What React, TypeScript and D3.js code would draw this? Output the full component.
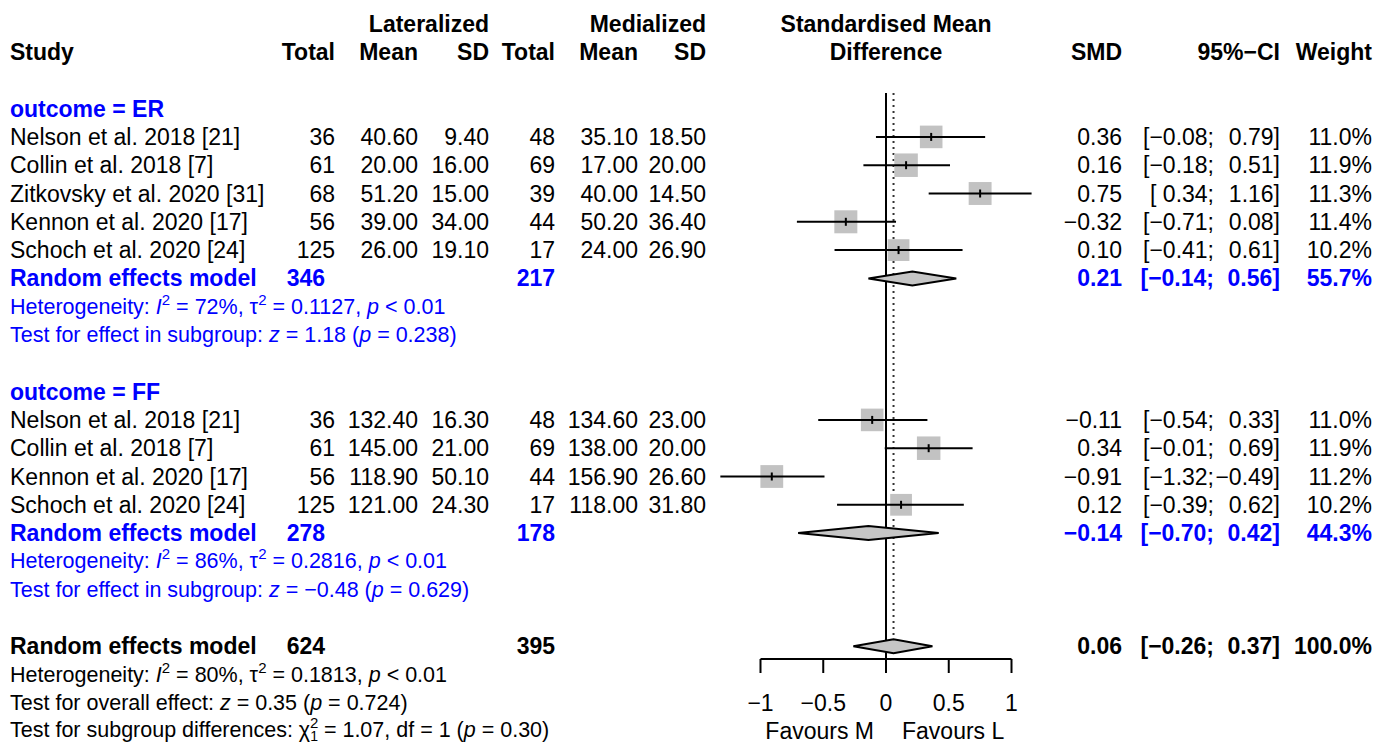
import { useEffect } from "react";
import * as d3 from "d3";

// ER subgroup
const erStudies = ["Nelson et al. 2018 [21]", "Collin et al. 2018 [7]", "Zitkovsky et al. 2020 [31]", "Kennon et al. 2020 [17]", "Schoch et al. 2020 [24]"];
const erLatTotal = [36, 61, 68, 56, 125];
const erLatMean = [40.6, 20.0, 51.2, 39.0, 26.0];
const erLatSD = [9.4, 16.0, 15.0, 34.0, 19.1];
const erMedTotal = [48, 69, 39, 44, 17];
const erMedMean = [35.1, 17.0, 40.0, 50.2, 24.0];
const erMedSD = [18.5, 20.0, 14.5, 36.4, 26.9];
const erSmd = [0.36, 0.16, 0.75, -0.32, 0.1];
const erLower = [-0.08, -0.18, 0.34, -0.71, -0.41];
const erUpper = [0.79, 0.51, 1.16, 0.08, 0.61];
const erWeight = [11.0, 11.9, 11.3, 11.4, 10.2];

// FF subgroup
const ffStudies = ["Nelson et al. 2018 [21]", "Collin et al. 2018 [7]", "Kennon et al. 2020 [17]", "Schoch et al. 2020 [24]"];
const ffLatTotal = [36, 61, 56, 125];
const ffLatMean = [132.4, 145.0, 118.9, 121.0];
const ffLatSD = [16.3, 21.0, 50.1, 24.3];
const ffMedTotal = [48, 69, 44, 17];
const ffMedMean = [134.6, 138.0, 156.9, 118.0];
const ffMedSD = [23.0, 20.0, 26.6, 31.8];
const ffSmd = [-0.11, 0.34, -0.91, 0.12];
const ffLower = [-0.54, -0.01, -1.32, -0.39];
const ffUpper = [0.33, 0.69, -0.49, 0.62];
const ffWeight = [11.0, 11.9, 11.2, 10.2];

// pooled: [ER, FF, overall]
const poolLatTotal = [346, 278, 624];
const poolMedTotal = [217, 178, 395];
const poolSmd = [0.21, -0.14, 0.06];
const poolLower = [-0.14, -0.7, -0.26];
const poolUpper = [0.56, 0.42, 0.37];
const poolWeight = [55.7, 44.3, 100.0];

const axisTicks = [-1, -0.5, 0, 0.5, 1];

const FONT = "'Liberation Sans', Arial, Helvetica, sans-serif";
const BLUE = "#0000ff";
const FS = 23;
const FS2 = 21.5;

const f2 = d3.format(".2f");
const f1 = d3.format(".1f");

const App = () => {
  useEffect(() => {
    document.body.style.margin = "0";
  }, []);

  const x = d3.scaleLinear().domain([-1, 1]).range([760.5, 1011.5]);
  const y = d3.scaleLinear().domain([0, 1]).range([52, 80.3]);
  const box = d3.scaleSqrt().domain([0, 11.9]).range([0, 23.5]);

  const col = { latTotal: 335, latMean: 418, latSD: 489, medTotal: 555, medMean: 638, medSD: 706, smd: 1122, ciLo: 1214, ciHi: 1280, weight: 1372 };
  const axisY = 659;

  const ciLo = (v: number) => (v < 0 ? `[${f2(v)};` : `[ ${f2(v)};`);

  const right = (xx: number, yy: number, s: string, extra: any = {}) => (
    <text x={xx} y={yy} textAnchor="end" dominantBaseline="central" {...extra}>{s}</text>
  );

  const studyRows = (start: number, studies: string[], lt: number[], lm: number[], ls: number[], mt: number[], mm: number[], ms: number[], smd: number[], lo: number[], hi: number[], w: number[]) =>
    studies.map((s, i) => {
      const yy = y(start + i);
      const size = box(w[i]);
      return (
        <g key={s + start}>
          <text x={10} y={yy} dominantBaseline="central">{s}</text>
          {right(col.latTotal, yy, String(lt[i]))}
          {right(col.latMean, yy, f2(lm[i]))}
          {right(col.latSD, yy, f2(ls[i]))}
          {right(col.medTotal, yy, String(mt[i]))}
          {right(col.medMean, yy, f2(mm[i]))}
          {right(col.medSD, yy, f2(ms[i]))}
          {right(col.smd, yy, f2(smd[i]))}
          {right(col.ciLo, yy, ciLo(lo[i]))}
          {right(col.ciHi, yy, `${f2(hi[i])}]`)}
          {right(col.weight, yy, `${f1(w[i])}%`)}
          <rect x={x(smd[i]) - size / 2} y={yy - size / 2} width={size} height={size} fill="#c2c2c2" />
          <line x1={x(lo[i])} x2={x(hi[i])} y1={yy} y2={yy} stroke="#000" strokeWidth={2} />
          <line x1={x(smd[i])} x2={x(smd[i])} y1={yy - 4} y2={yy + 4} stroke="#000" strokeWidth={2} />
        </g>
      );
    });

  const pooledRow = (row: number, k: number, color: string) => {
    const yy = y(row);
    const h = 7;
    const pts = [
      [x(poolLower[k]), yy],
      [x(poolSmd[k]), yy - h],
      [x(poolUpper[k]), yy],
      [x(poolSmd[k]), yy + h],
    ];
    return (
      <g key={"pool" + k}>
        <g fill={color} fontWeight="bold">
          <text x={10} y={yy} dominantBaseline="central">Random effects model</text>
          {right(col.latTotal - 10, yy, String(poolLatTotal[k]))}
          {right(col.medTotal, yy, String(poolMedTotal[k]))}
          {right(col.smd, yy, f2(poolSmd[k]))}
          {right(col.ciLo, yy, ciLo(poolLower[k]))}
          {right(col.ciHi, yy, `${f2(poolUpper[k])}]`)}
          {right(col.weight, yy, `${f1(poolWeight[k])}%`)}
        </g>
        <polygon points={pts.map((p) => p.join(",")).join(" ")} fill="#c6c6c6" stroke="#000" strokeWidth={2} />
      </g>
    );
  };

  const hetLine = (row: number, i2: string, tau2: string, color: string) => (
    <text x={10} y={y(row)} dominantBaseline="central" fill={color} fontSize={FS2}>
      Heterogeneity: <tspan fontStyle="italic">I</tspan>
      <tspan dy={-8} fontSize={15}>2</tspan>
      <tspan dy={8}>{` = ${i2}, τ`}</tspan>
      <tspan dy={-8} fontSize={15}>2</tspan>
      <tspan dy={8}>{` = ${tau2}, `}</tspan>
      <tspan fontStyle="italic">p</tspan>
      {" < 0.01"}
    </text>
  );

  const testLine = (row: number, label: string, z: string, p: string, color: string) => (
    <text x={10} y={y(row)} dominantBaseline="central" fill={color} fontSize={FS2}>
      {label}: <tspan fontStyle="italic">z</tspan>
      {` = ${z} (`}
      <tspan fontStyle="italic">p</tspan>
      {` = ${p})`}
    </text>
  );

  return (
    <svg width={1392} height={743} style={{ display: "block", background: "#fff" }} fontFamily={FONT} fontSize={FS}>
      {/* headers */}
      <g fontWeight="bold">
        {right(col.latSD, y(-1), "Lateralized")}
        {right(col.medSD, y(-1), "Medialized")}
        <text x={x(0)} y={y(-1)} textAnchor="middle" dominantBaseline="central">Standardised Mean</text>
        <text x={x(0)} y={y(0)} textAnchor="middle" dominantBaseline="central">Difference</text>
        <text x={10} y={y(0)} dominantBaseline="central">Study</text>
        {right(col.latTotal, y(0), "Total")}
        {right(col.latMean, y(0), "Mean")}
        {right(col.latSD, y(0), "SD")}
        {right(col.medTotal, y(0), "Total")}
        {right(col.medMean, y(0), "Mean")}
        {right(col.medSD, y(0), "SD")}
        {right(col.smd, y(0), "SMD")}
        {right(col.ciHi, y(0), "95%−CI")}
        {right(col.weight, y(0), "Weight")}
      </g>

      {/* reference lines */}
      <line x1={x(0)} x2={x(0)} y1={93} y2={axisY} stroke="#000" strokeWidth={2} />
      <line x1={x(poolSmd[2])} x2={x(poolSmd[2])} y1={93} y2={y(21) - 7} stroke="#333" strokeWidth={2} strokeDasharray="2,4" />

      {/* ER */}
      <text x={10} y={y(2)} dominantBaseline="central" fill={BLUE} fontWeight="bold">outcome = ER</text>
      {studyRows(3, erStudies, erLatTotal, erLatMean, erLatSD, erMedTotal, erMedMean, erMedSD, erSmd, erLower, erUpper, erWeight)}
      {pooledRow(8, 0, BLUE)}
      {hetLine(9, "72%", "0.1127", BLUE)}
      {testLine(10, "Test for effect in subgroup", "1.18", "0.238", BLUE)}

      {/* FF */}
      <text x={10} y={y(12)} dominantBaseline="central" fill={BLUE} fontWeight="bold">outcome = FF</text>
      {studyRows(13, ffStudies, ffLatTotal, ffLatMean, ffLatSD, ffMedTotal, ffMedMean, ffMedSD, ffSmd, ffLower, ffUpper, ffWeight)}
      {pooledRow(17, 1, BLUE)}
      {hetLine(18, "86%", "0.2816", BLUE)}
      {testLine(19, "Test for effect in subgroup", "−0.48", "0.629", BLUE)}

      {/* overall */}
      {pooledRow(21, 2, "#000")}
      {hetLine(22, "80%", "0.1813", "#000")}
      {testLine(23, "Test for overall effect", "0.35", "0.724", "#000")}
      <text x={10} y={y(24) - 1} dominantBaseline="central" fontSize={FS2}>
        Test for subgroup differences: χ
        <tspan dy={-8} fontSize={15}>2</tspan>
        <tspan dx={-8.3} dy={14} fontSize={14}>1</tspan>
        <tspan dy={-6}>{" = 1.07, df = 1 ("}</tspan>
        <tspan fontStyle="italic">p</tspan>
        {" = 0.30)"}
      </text>

      {/* axis */}
      <line x1={x(-1)} x2={x(1)} y1={axisY} y2={axisY} stroke="#000" strokeWidth={2} />
      {axisTicks.map((t) => (
        <g key={t}>
          <line x1={x(t)} x2={x(t)} y1={axisY} y2={axisY + 14} stroke="#000" strokeWidth={2} />
          <text x={x(t)} y={y(23)} textAnchor="middle" dominantBaseline="central">{d3.format("")(t)}</text>
        </g>
      ))}
      <text x={x(0) - 12} y={y(24)} textAnchor="end" dominantBaseline="central">Favours M</text>
      <text x={x(0) + 16} y={y(24)} dominantBaseline="central">Favours L</text>
    </svg>
  );
};

export default App;
